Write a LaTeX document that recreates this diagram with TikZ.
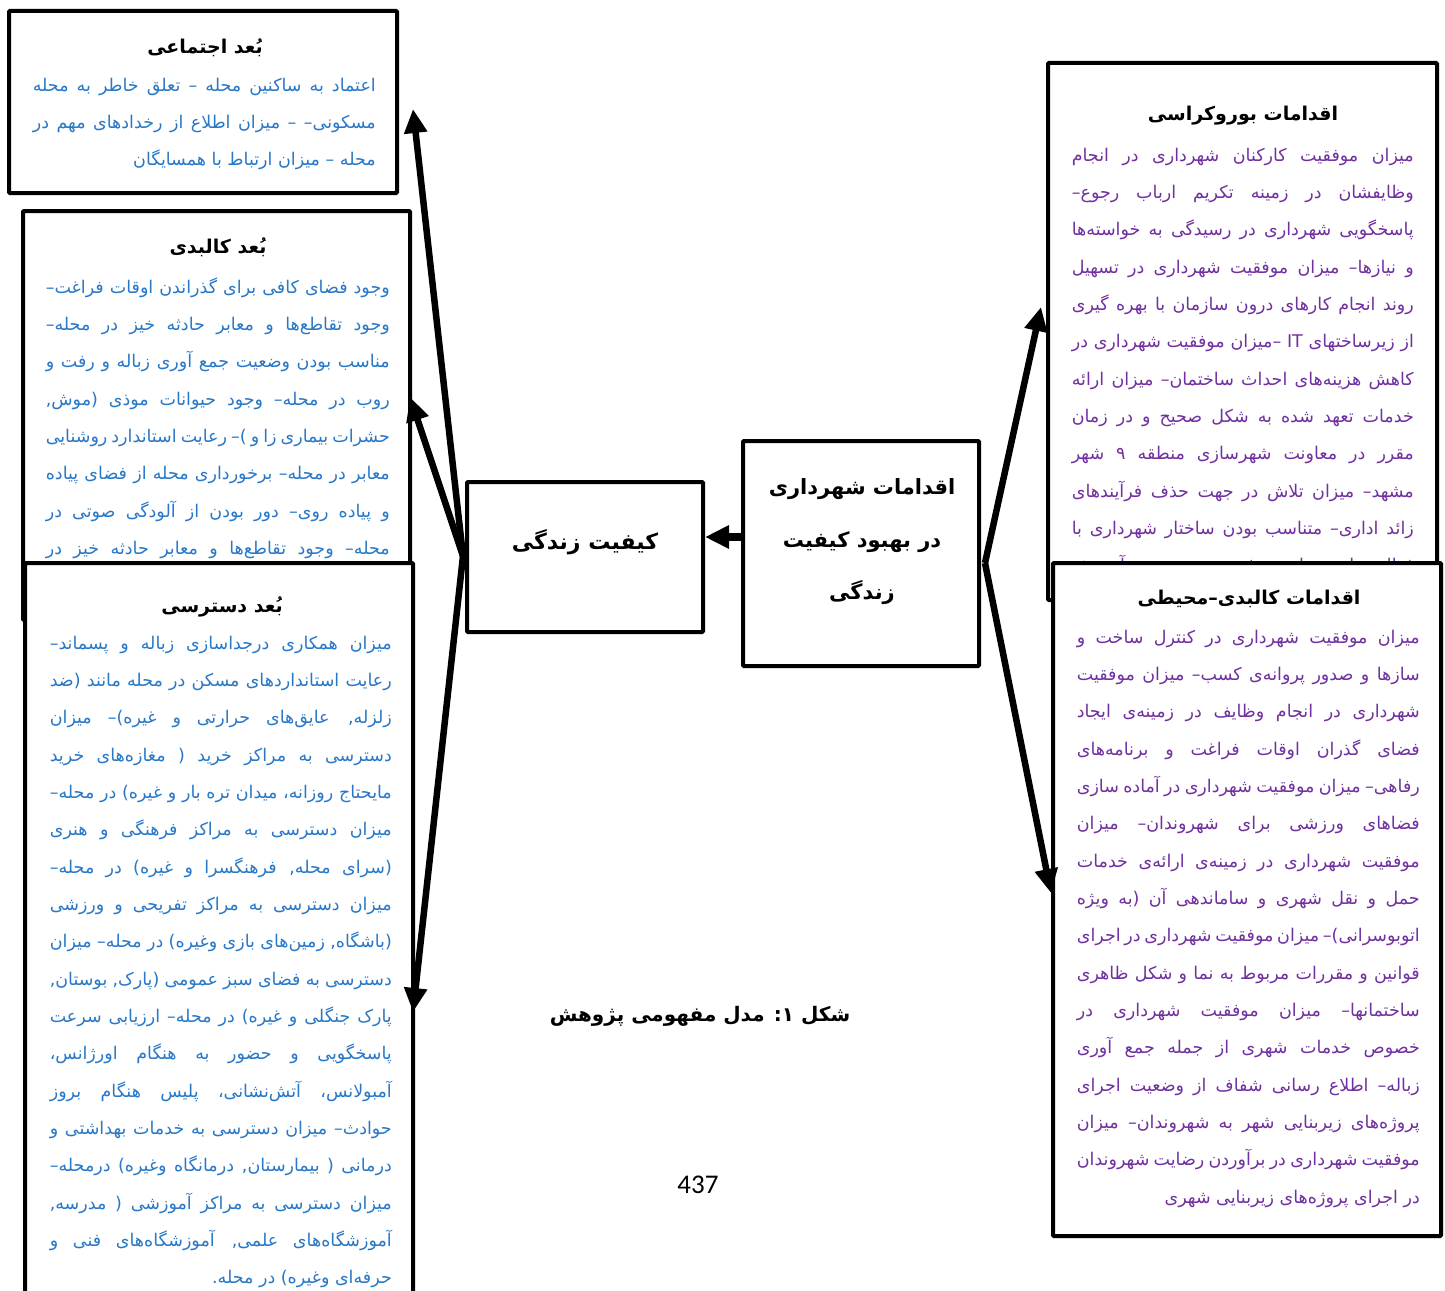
\documentclass[tikz,border=0pt]{standalone}
\usepackage{fontspec}
\usetikzlibrary{arrows.meta,calc}
\TeXXeTstate=1
\newfontfamily\fa[Script=Arabic]{DejaVu Sans}
\newfontfamily\carl{Carlito}
\definecolor{tblue}{RGB}{40,120,200}
\definecolor{tpurp}{RGB}{112,48,160}
\newlength\colw
\newcommand\jline[1]{\hbox to \colw{\beginR#1\endR}}
\newcommand\lastln[1]{\hbox to \colw{\hfill\beginR#1\endR}}
\newcommand\tblock[2]{\vtop{\colw=#1\relax\fa\fontsize{17.5}{37.35}\selectfont\lineskiplimit=-100pt\relax\hbadness=10000\relax #2}}
\tikzset{
  box/.style={draw=black, line width=4pt, fill=white, inner sep=0pt, rounded corners=1pt},
  hdr/.style={inner sep=0pt, anchor=base, font=\fa\bfseries\fontsize{19}{25}\selectfont},
  body/.style={inner sep=0pt, anchor=base east},
  ctr/.style={inner sep=0pt, anchor=base, font=\fa\bfseries\fontsize{21}{28}\selectfont},
  arr/.style={line width=6.5pt, -{Triangle[length=24pt,width=22pt]}},
}
\begin{document}
\begin{tikzpicture}[x=1pt,y=-1pt]
\useasboundingbox[fill=white] (0,0) rectangle (1445,1290);

% social box
\node[box, minimum width=388pt, minimum height=182pt] (soc) at (203,102) {};
\node[hdr] (socH) at (205,54) {\beginR بُعد اجتماعی\endR};
\node[body, text=tblue] (socT) at (376,91) {\tblock{343pt}{%
\jline{اعتماد به ساکنین محله – تعلق خاطر به محله}
\jline{مسکونی– – میزان اطلاع از رخدادهای مهم در}
\lastln{محله – میزان ارتباط با همسایگان}}};

% kalbadi box
\node[box, minimum width=387pt, minimum height=409pt] (kal) at (216.5,415.5) {};
\node[hdr] (kalH) at (218,253) {\beginR بُعد کالبدی\endR};
\node[body, text=tblue] (kalT) at (390,293) {\tblock{344pt}{%
\jline{وجود فضای کافی برای گذراندن اوقات فراغت–}
\jline{وجود تقاطع‌ها و معابر حادثه خیز در محله–}
\jline{مناسب بودن وضعیت جمع آوری زباله و رفت و}
\jline{روب در محله– وجود حیوانات موذی (موش,}
\jline{حشرات بیماری زا و )– رعایت استاندارد روشنایی}
\jline{معابر در محله– برخورداری محله از فضای پیاده}
\jline{و پیاده روی– دور بودن از آلودگی صوتی در}
\jline{محله– وجود تقاطع‌ها و معابر حادثه خیز در}}};

% dastrasi box
\node[box, minimum width=388pt, minimum height=747pt] (das) at (219,936.5) {};
\node[hdr] (dasH) at (222,612) {\beginR بُعد دسترسی\endR};
\node[body, text=tblue] (dasT) at (392,649) {\tblock{342pt}{%
\jline{میزان همکاری درجداسازی زباله و پسماند–}
\jline{رعایت استانداردهای مسکن در محله مانند (ضد}
\jline{زلزله, عایق‌های حرارتی و غیره)– میزان}
\jline{دسترسی به مراکز خرید ( مغازه‌های خرید}
\jline{مایحتاج روزانه، میدان تره بار و غیره) در محله–}
\jline{میزان دسترسی به مراکز فرهنگی و هنری}
\jline{(سرای محله, فرهنگسرا و غیره) در محله–}
\jline{میزان دسترسی به مراکز تفریحی و ورزشی}
\jline{(باشگاه, زمین‌های بازی وغیره) در محله– میزان}
\jline{دسترسی به فضای سبز عمومی (پارک, بوستان,}
\jline{پارک جنگلی و غیره) در محله– ارزیابی سرعت}
\jline{پاسخگویی و حضور به هنگام اورژانس،}
\jline{آمبولانس، آتش‌نشانی، پلیس هنگام بروز}
\jline{حوادث– میزان دسترسی به خدمات بهداشتی و}
\jline{درمانی ( بیمارستان, درمانگاه وغیره) درمحله–}
\jline{میزان دسترسی به مراکز آموزشی ( مدرسه,}
\jline{آموزشگاه‌های علمی, آموزشگاه‌های فنی و}
\lastln{حرفه‌ای وغیره) در محله.}}};

% bureaucracy box
\node[box, minimum width=389pt, minimum height=537pt] (bur) at (1242.5,331.5) {};
\node[hdr] (burH) at (1243,120) {\beginR اقدامات بوروکراسی\endR};
\node[body, text=tpurp] (burT) at (1414,161) {\tblock{342pt}{%
\jline{میزان موفقیت کارکنان شهرداری در انجام}
\jline{وظایفشان در زمینه تکریم ارباب رجوع–}
\jline{پاسخگویی شهرداری در رسیدگی به خواسته‌ها}
\jline{و نیازها– میزان موفقیت شهرداری در تسهیل}
\jline{روند انجام کارهای درون سازمان با بهره گیری}
\jline{از زیرساختهای \beginL IT\endL{} –میزان موفقیت شهرداری در}
\jline{کاهش هزینه‌های احداث ساختمان– میزان ارائه}
\jline{خدمات تعهد شده به شکل صحیح و در زمان}
\jline{مقرر در معاونت شهرسازی منطقه ۹ شهر}
\jline{مشهد– میزان تلاش در جهت حذف فرآیندهای}
\jline{زائد اداری– متناسب بودن ساختار شهرداری با}
\jline{فعالیت‌ها– میزان موفقیت در زمینه آموزش}}};

% kalbadi-mohiti box
\node[box, minimum width=388pt, minimum height=673pt] (moh) at (1247,899.5) {};
\node[hdr] (mohH) at (1249,604) {\beginR اقدامات کالبدی–محیطی\endR};
\node[body, text=tpurp] (mohT) at (1420,643) {\tblock{343pt}{%
\jline{میزان موفقیت شهرداری در کنترل ساخت و}
\jline{سازها و صدور پروانه‌ی کسب– میزان موفقیت}
\jline{شهرداری در انجام وظایف در زمینه‌ی ایجاد}
\jline{فضای گذران اوقات فراغت و برنامه‌های}
\jline{رفاهی– میزان موفقیت شهرداری در آماده سازی}
\jline{فضاهای ورزشی برای شهروندان– میزان}
\jline{موفقیت شهرداری در زمینه‌ی ارائه‌ی خدمات}
\jline{حمل و نقل شهری و ساماندهی آن (به ویژه}
\jline{اتوبوسرانی)– میزان موفقیت شهرداری در اجرای}
\jline{قوانین و مقررات مربوط به نما و شکل ظاهری}
\jline{ساختمانها– میزان موفقیت شهرداری در}
\jline{خصوص خدمات شهری از جمله جمع آوری}
\jline{زباله– اطلاع رسانی شفاف از وضعیت اجرای}
\jline{پروژه‌های زیربنایی شهر به شهروندان– میزان}
\jline{موفقیت شهرداری در برآوردن رضایت شهروندان}
\lastln{در اجرای پروژه‌های زیربنایی شهری}}};

% central boxes
\node[box, minimum width=236pt, minimum height=150pt] (kif) at (585,557) {};
\node[ctr, font=\fa\bfseries\fontsize{22}{28}\selectfont] (kifT) at (585,549) {\beginR کیفیت زندگی\endR};
\node[box, minimum width=236pt, minimum height=225pt] (sh) at (861,553.5) {};
\node[ctr] (sh1) at (862,494) {\beginR اقدامات شهرداری\endR};
\node[ctr] (sh2) at (862,547) {\beginR در بهبود کیفیت\endR};
\node[ctr] (sh3) at (862,599) {\beginR زندگی\endR};

% caption and page number
\node[ctr, font=\fa\bfseries\fontsize{20}{28}\selectfont] (cap) at (700,1021) {\beginR شکل ۱: مدل مفهومی پژوهش\endR};
\node[inner sep=0pt, anchor=base, font=\carl\fontsize{27}{30}\selectfont] (pg) at (698,1193) {437};

% arrows
\coordinate (lf) at (463,556);
\coordinate (tsoc) at (413,109);
\coordinate (tkal) at (410,397);
\coordinate (tdas) at (413,1012);
\coordinate (rf) at (985,563);
\coordinate (tbur) at (1041,307);
\coordinate (tmoh) at (1051,893);
\coordinate (cs) at (743,537);
\draw[arr] (lf) -- (tsoc);
\draw[arr] (lf) -- (tkal);
\draw[arr] (lf) -- (tdas);
\draw[arr] (rf) -- (tbur);
\draw[arr] (rf) -- (tmoh);
\draw[arr, line width=8pt] (cs) -- (cs -| kif.east);
\end{tikzpicture}
\end{document}
